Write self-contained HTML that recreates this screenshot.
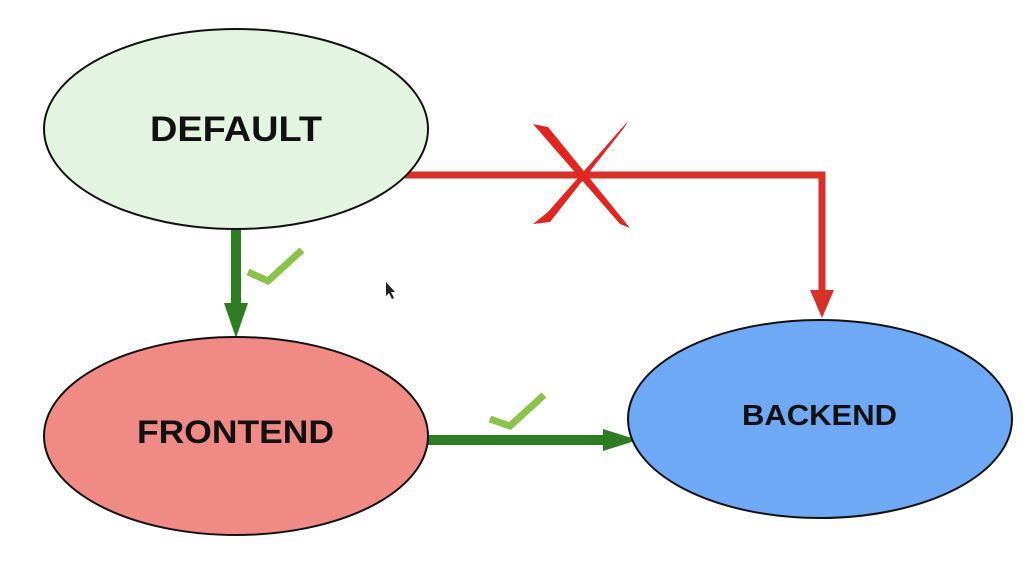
<!DOCTYPE html>
<html><head><meta charset="utf-8"><style>
html,body{margin:0;padding:0;background:#fff;width:1027px;height:567px;overflow:hidden}
text{font-family:"Liberation Sans",Arial,sans-serif;font-weight:bold;fill:#111}
</style></head><body>
<svg width="1027" height="567" viewBox="0 0 1027 567" xmlns="http://www.w3.org/2000/svg">
<polyline points="405,175 822,175 822,292" fill="none" stroke="#d8302a" stroke-width="7"/>
<polygon points="810,290 834,290 822,318" fill="#d8302a"/>
<polygon points="533,124 548,127 630,228 620,224" fill="#e0261f"/>
<polygon points="628,121 624,128 550,222 533,224 548,212" fill="#e0261f"/>
<rect x="231" y="228" width="10" height="76" fill="#2e7d22"/>
<polygon points="224,303 248,303 236,338" fill="#2e7d22"/>
<rect x="426" y="435" width="180" height="10" fill="#2e7d22"/>
<polygon points="603,429 603,451 638,440" fill="#2e7d22"/>
<polyline points="248,272 268,281 302,250" fill="none" stroke="#8bc34a" stroke-width="7"/>
<polyline points="490,419 510,426 544,395" fill="none" stroke="#8bc34a" stroke-width="7"/>
<ellipse cx="236" cy="129" rx="192" ry="100" fill="#e3f5e1" stroke="#111" stroke-width="2"/>
<ellipse cx="236" cy="436" rx="192" ry="99" fill="#ef8a85" stroke="#111" stroke-width="2"/>
<ellipse cx="820" cy="419" rx="192" ry="99" fill="#6fa8f5" stroke="#111" stroke-width="2"/>
<text x="150" y="141" font-size="35" textLength="172" lengthAdjust="spacingAndGlyphs">DEFAULT</text>
<text x="137" y="443" font-size="32" textLength="197" lengthAdjust="spacingAndGlyphs">FRONTEND</text>
<text x="742" y="425" font-size="29" textLength="155" lengthAdjust="spacingAndGlyphs">BACKEND</text>
<polygon points="386,282 386,296 389,293 392,299 394,298 391,292 395,292" fill="#222"/>
</svg>
</body></html>
